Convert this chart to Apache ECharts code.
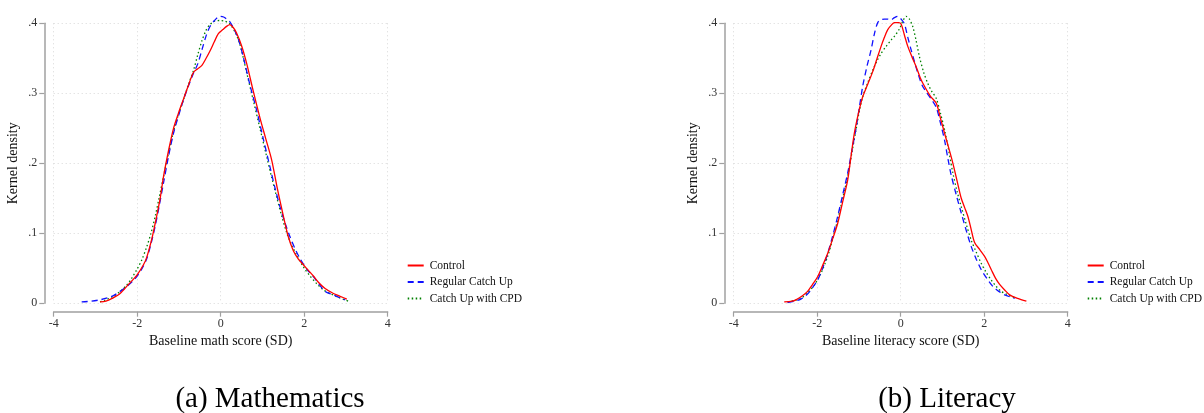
<!DOCTYPE html>
<html>
<head>
<meta charset="utf-8">
<script src="https://cdn.jsdelivr.net/npm/echarts@6/dist/echarts.min.js"></script>
<style>
  html, body { margin: 0; padding: 0; background: #ffffff; }
  #chart { width: 1204px; height: 413px; }
</style>
</head>
<body>
<div id="chart"></div>
<script>
// ---------------- DATA ----------------
var seriesNames = ['Control', 'Regular Catch Up', 'Catch Up with CPD'];
var xTicks = [-4, -2, 0, 2, 4];
var yTicks = [0, 0.1, 0.2, 0.3, 0.4];
var panelCaptions = ['(a) Mathematics', '(b) Literacy'];
var xTitles = ['Baseline math score (SD)', 'Baseline literacy score (SD)'];
var yTitle = 'Kernel density';

// Mathematics – Control
var mathControlX = [-2.89,-2.75,-2.60,-2.41,-2.21,-2.01,-1.85,-1.77,-1.65,-1.57,-1.45,-1.37,-1.25,-1.13,-1.01,-0.89,-0.77,-0.65,-0.55,-0.45,-0.35,-0.26,-0.15,-0.06,0.05,0.15,0.22,0.30,0.38,0.50,0.62,0.78,0.94,1.08,1.22,1.36,1.50,1.62,1.74,1.86,1.98,2.10,2.22,2.34,2.50,2.70,2.86,3.02];
var mathControlY = [0.002,0.003,0.007,0.014,0.027,0.040,0.055,0.066,0.092,0.114,0.150,0.181,0.218,0.250,0.272,0.292,0.312,0.330,0.335,0.340,0.350,0.360,0.374,0.385,0.391,0.396,0.398,0.394,0.386,0.368,0.343,0.303,0.265,0.235,0.205,0.163,0.125,0.095,0.075,0.063,0.055,0.047,0.039,0.030,0.021,0.014,0.010,0.006];
// Mathematics – Regular Catch Up
var mathRegularX = [-3.33,-3.10,-2.89,-2.70,-2.57,-2.41,-2.25,-2.10,-2.01,-1.89,-1.77,-1.67,-1.57,-1.47,-1.37,-1.25,-1.13,-1.01,-0.89,-0.77,-0.65,-0.55,-0.45,-0.35,-0.26,-0.15,-0.02,0.07,0.14,0.22,0.30,0.42,0.54,0.70,0.86,1.02,1.18,1.30,1.42,1.54,1.66,1.78,1.90,2.06,2.22,2.36,2.50,2.70,2.85,2.98];
var mathRegularY = [0.002,0.003,0.005,0.008,0.011,0.017,0.024,0.032,0.038,0.049,0.064,0.085,0.110,0.140,0.172,0.210,0.243,0.268,0.291,0.311,0.329,0.342,0.362,0.382,0.395,0.404,0.410,0.409,0.406,0.402,0.394,0.378,0.352,0.312,0.276,0.235,0.195,0.165,0.138,0.115,0.095,0.078,0.064,0.049,0.038,0.027,0.017,0.012,0.008,0.005];
// Mathematics – Catch Up with CPD
var mathCpdX = [-2.89,-2.75,-2.57,-2.41,-2.25,-2.13,-2.01,-1.89,-1.77,-1.67,-1.57,-1.47,-1.37,-1.25,-1.13,-1.01,-0.89,-0.77,-0.65,-0.55,-0.45,-0.35,-0.26,-0.15,-0.02,0.10,0.22,0.34,0.46,0.62,0.78,0.94,1.10,1.22,1.34,1.46,1.58,1.70,1.82,1.98,2.14,2.30,2.46,2.62,2.80,3.06];
var mathCpdY = [0.002,0.005,0.010,0.017,0.026,0.036,0.048,0.062,0.081,0.100,0.124,0.152,0.181,0.214,0.245,0.270,0.291,0.313,0.333,0.355,0.375,0.390,0.398,0.403,0.404,0.403,0.399,0.388,0.370,0.330,0.290,0.250,0.210,0.180,0.152,0.125,0.101,0.083,0.069,0.052,0.039,0.028,0.019,0.014,0.009,0.003];

// Literacy – Control
var litControlX = [-2.79,-2.60,-2.51,-2.37,-2.23,-2.11,-1.99,-1.87,-1.75,-1.63,-1.51,-1.39,-1.27,-1.19,-1.11,-1.01,-0.91,-0.79,-0.67,-0.57,-0.47,-0.39,-0.31,-0.23,-0.15,-0.05,0.01,0.09,0.17,0.27,0.37,0.47,0.57,0.71,0.85,0.95,1.05,1.15,1.25,1.35,1.45,1.53,1.61,1.69,1.77,1.89,2.01,2.09,2.17,2.27,2.37,2.49,2.61,2.80,3.01];
var litControlY = [0.002,0.003,0.005,0.010,0.017,0.027,0.038,0.054,0.071,0.092,0.114,0.145,0.176,0.210,0.243,0.272,0.295,0.313,0.331,0.349,0.367,0.380,0.391,0.397,0.401,0.401,0.399,0.383,0.367,0.352,0.338,0.322,0.310,0.296,0.286,0.265,0.243,0.222,0.200,0.175,0.150,0.137,0.124,0.105,0.087,0.077,0.067,0.058,0.048,0.036,0.027,0.019,0.012,0.007,0.003];
// Literacy – Regular Catch Up
var litRegularX = [-2.71,-2.55,-2.39,-2.27,-2.15,-2.07,-1.99,-1.87,-1.75,-1.63,-1.51,-1.39,-1.27,-1.17,-1.07,-0.99,-0.91,-0.81,-0.71,-0.63,-0.55,-0.47,-0.39,-0.31,-0.23,-0.15,-0.07,0.01,0.09,0.17,0.25,0.33,0.41,0.51,0.61,0.73,0.85,0.95,1.05,1.13,1.21,1.33,1.45,1.57,1.69,1.81,1.93,2.07,2.21,2.35,2.49,2.73];
var litRegularY = [0.001,0.003,0.006,0.011,0.019,0.026,0.033,0.050,0.071,0.096,0.124,0.155,0.186,0.218,0.250,0.280,0.310,0.338,0.362,0.385,0.401,0.405,0.406,0.406,0.405,0.408,0.410,0.406,0.399,0.380,0.362,0.345,0.329,0.312,0.302,0.292,0.280,0.258,0.233,0.207,0.183,0.155,0.129,0.104,0.081,0.063,0.048,0.035,0.024,0.017,0.012,0.007];
// Literacy – Catch Up with CPD
var litCpdX = [-2.71,-2.55,-2.39,-2.23,-2.07,-1.91,-1.75,-1.63,-1.51,-1.39,-1.27,-1.17,-1.07,-0.99,-0.91,-0.79,-0.67,-0.57,-0.47,-0.35,-0.23,-0.13,-0.03,0.05,0.13,0.21,0.29,0.37,0.45,0.55,0.65,0.75,0.85,0.95,1.05,1.15,1.25,1.35,1.45,1.57,1.69,1.81,1.93,2.05,2.17,2.29,2.41,2.53,2.65,2.77];
var litCpdY = [0.002,0.004,0.007,0.015,0.026,0.043,0.067,0.092,0.119,0.150,0.181,0.215,0.248,0.275,0.295,0.315,0.333,0.346,0.357,0.367,0.376,0.383,0.392,0.403,0.410,0.406,0.395,0.375,0.352,0.330,0.314,0.302,0.293,0.272,0.248,0.218,0.186,0.160,0.138,0.113,0.090,0.073,0.057,0.044,0.033,0.024,0.017,0.013,0.010,0.007];

// ---------------- BUILD ----------------
function zip(xs, ys) { return xs.map(function (x, i) { return [x, ys[i]]; }); }

var FONT = 'Liberation Serif';
var colors = ['#ff0000', '#1010ff', '#008000'];
var lineTypes = ['solid', [6, 4], [1.5, 2.5]];

var panels = [
  { left: 53.7, legendLeft: 406.7, captionX: 270,
    data: [zip(mathControlX, mathControlY), zip(mathRegularX, mathRegularY), zip(mathCpdX, mathCpdY)] },
  { left: 733.7, legendLeft: 1086.7, captionX: 947,
    data: [zip(litControlX, litControlY), zip(litRegularX, litRegularY), zip(litCpdX, litCpdY)] }
];

var grids = [], xAxes = [], yAxes = [], series = [], legends = [], titles = [];
var axisGray = '#a0a0a0';

panels.forEach(function (p, k) {
  grids.push({ left: p.left, top: 23.3, width: 334, height: 280, containLabel: false });
  xAxes.push({
    gridIndex: k, type: 'value', min: xTicks[0], max: xTicks[xTicks.length - 1], interval: 2,
    offset: 8.4,
    name: xTitles[k], nameLocation: 'middle', nameGap: 21,
    nameTextStyle: { fontFamily: FONT, fontSize: 14, color: '#111' },
    axisLine: { show: true, onZero: false, lineStyle: { color: axisGray, width: 1.5 } },
    axisTick: { show: true, inside: false, length: 5, lineStyle: { color: axisGray, width: 1.2 } },
    axisLabel: { margin: 6, fontFamily: FONT, fontSize: 12, color: '#333',
      formatter: function (v) { return String(v); } },
    splitLine: { show: true, lineStyle: { color: '#d8d8d8', type: [1, 3], width: 1 } }
  });
  yAxes.push({
    gridIndex: k, type: 'value', min: yTicks[0], max: yTicks[yTicks.length - 1], interval: 0.1,
    offset: 9.4,
    name: yTitle, nameLocation: 'middle', nameGap: 24,
    nameTextStyle: { fontFamily: FONT, fontSize: 14, color: '#111' },
    axisLine: { show: true, onZero: false, lineStyle: { color: axisGray, width: 1.5 } },
    axisTick: { show: true, inside: false, length: 5, lineStyle: { color: axisGray, width: 1.2 } },
    axisLabel: { margin: 7, fontFamily: FONT, fontSize: 12, color: '#333',
      formatter: function (v) {
        var r = Math.round(v * 10) / 10;
        return r === 0 ? '0' : String(r).replace(/^0\./, '.');
      } },
    splitLine: { show: true, lineStyle: { color: '#d8d8d8', type: [1, 3], width: 1 } }
  });
  seriesNames.forEach(function (name, i) {
    series.push({
      name: name, type: 'line', xAxisIndex: k, yAxisIndex: k,
      data: p.data[i], symbol: 'none', smooth: 0.3, clip: false,
      lineStyle: { color: colors[i], width: 1.3, type: lineTypes[i] },
      itemStyle: { color: colors[i] },
      z: 10 - i,
      animation: false
    });
  });
  legends.push({
    data: seriesNames, orient: 'vertical', left: p.legendLeft, top: 259.5,
    itemWidth: 16, itemHeight: 12, itemGap: 4.5, padding: 0,
    itemStyle: { color: 'rgba(0,0,0,0)', opacity: 0, borderWidth: 0 },
    textStyle: { fontFamily: FONT, fontSize: 11.5, color: '#111', padding: [0, 0, 0, 1] },
    selectedMode: false
  });
  titles.push({
    text: panelCaptions[k], left: p.captionX, top: 385, textAlign: 'center', padding: 0,
    textStyle: { fontFamily: FONT, fontSize: 29, fontWeight: 'normal', color: '#000' }
  });
});

var chart = echarts.init(document.getElementById('chart'), null, { renderer: 'canvas' });
chart.setOption({
  backgroundColor: '#ffffff',
  animation: false,
  title: titles,
  legend: legends,
  grid: grids,
  xAxis: xAxes,
  yAxis: yAxes,
  series: series
});
</script>
</body>
</html>
